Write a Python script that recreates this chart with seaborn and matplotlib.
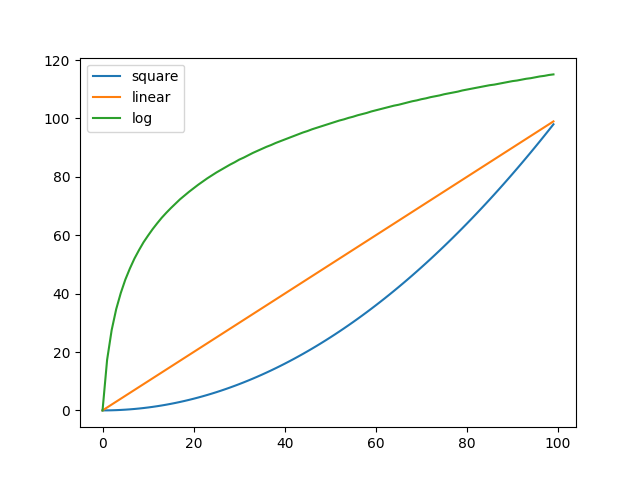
import matplotlib
matplotlib.use("Agg")
import matplotlib.pyplot as plt
import seaborn as sns
import pandas as pd

# x positions 0..99
x_vals = list(range(100))

square_vals = [0, 0.01, 0.04, 0.09, 0.16, 0.25, 0.36, 0.49, 0.64, 0.81,
               1.00, 1.21, 1.44, 1.69, 1.96, 2.25, 2.56, 2.89, 3.24, 3.61,
               4.00, 4.41, 4.84, 5.29, 5.76, 6.25, 6.76, 7.29, 7.84, 8.41,
               9.00, 9.61, 10.24, 10.89, 11.56, 12.25, 12.96, 13.69, 14.44, 15.21,
               16.00, 16.81, 17.64, 18.49, 19.36, 20.25, 21.16, 22.09, 23.04, 24.01,
               25.00, 26.01, 27.04, 28.09, 29.16, 30.25, 31.36, 32.49, 33.64, 34.81,
               36.00, 37.21, 38.44, 39.69, 40.96, 42.25, 43.56, 44.89, 46.24, 47.61,
               49.00, 50.41, 51.84, 53.29, 54.76, 56.25, 57.76, 59.29, 60.84, 62.41,
               64.00, 65.61, 67.24, 68.89, 70.56, 72.25, 73.96, 75.69, 77.44, 79.21,
               81.00, 82.81, 84.64, 86.49, 88.36, 90.25, 92.16, 94.09, 96.04, 98.01]

linear_vals = [0, 1, 2, 3, 4, 5, 6, 7, 8, 9,
               10, 11, 12, 13, 14, 15, 16, 17, 18, 19,
               20, 21, 22, 23, 24, 25, 26, 27, 28, 29,
               30, 31, 32, 33, 34, 35, 36, 37, 38, 39,
               40, 41, 42, 43, 44, 45, 46, 47, 48, 49,
               50, 51, 52, 53, 54, 55, 56, 57, 58, 59,
               60, 61, 62, 63, 64, 65, 66, 67, 68, 69,
               70, 71, 72, 73, 74, 75, 76, 77, 78, 79,
               80, 81, 82, 83, 84, 85, 86, 87, 88, 89,
               90, 91, 92, 93, 94, 95, 96, 97, 98, 99]

log_vals = [0.0, 17.3, 27.5, 34.7, 40.2, 44.8, 48.6, 52.0, 54.9, 57.6,
            59.9, 62.1, 64.1, 66.0, 67.7, 69.3, 70.8, 72.3, 73.6, 74.9,
            76.1, 77.3, 78.4, 79.5, 80.5, 81.5, 82.4, 83.3, 84.2, 85.0,
            85.9, 86.6, 87.4, 88.2, 88.9, 89.6, 90.3, 90.9, 91.6, 92.2,
            92.8, 93.4, 94.0, 94.6, 95.2, 95.7, 96.3, 96.8, 97.3, 97.8,
            98.3, 98.8, 99.3, 99.7, 100.2, 100.6, 101.1, 101.5, 101.9, 102.4,
            102.8, 103.2, 103.6, 104.0, 104.4, 104.7, 105.1, 105.5, 105.9, 106.2,
            106.6, 106.9, 107.3, 107.6, 107.9, 108.3, 108.6, 108.9, 109.2, 109.6,
            109.9, 110.2, 110.5, 110.8, 111.1, 111.4, 111.6, 111.9, 112.2, 112.5,
            112.8, 113.0, 113.3, 113.6, 113.8, 114.1, 114.4, 114.6, 114.9, 115.1]

series_names = ["square", "linear", "log"]

df = pd.DataFrame({"x": x_vals, "square": square_vals,
                   "linear": linear_vals, "log": log_vals})
long_df = df.melt(id_vars="x", value_vars=series_names,
                  var_name="series", value_name="y")

fig, ax = plt.subplots(figsize=(6.4, 4.8), dpi=100)
sns.lineplot(data=long_df, x="x", y="y", hue="series",
             hue_order=series_names, palette="tab10", ax=ax)
ax.set_xlabel("")
ax.set_ylabel("")
ax.legend(loc="upper left")

fig.savefig("out.png", dpi=100)
